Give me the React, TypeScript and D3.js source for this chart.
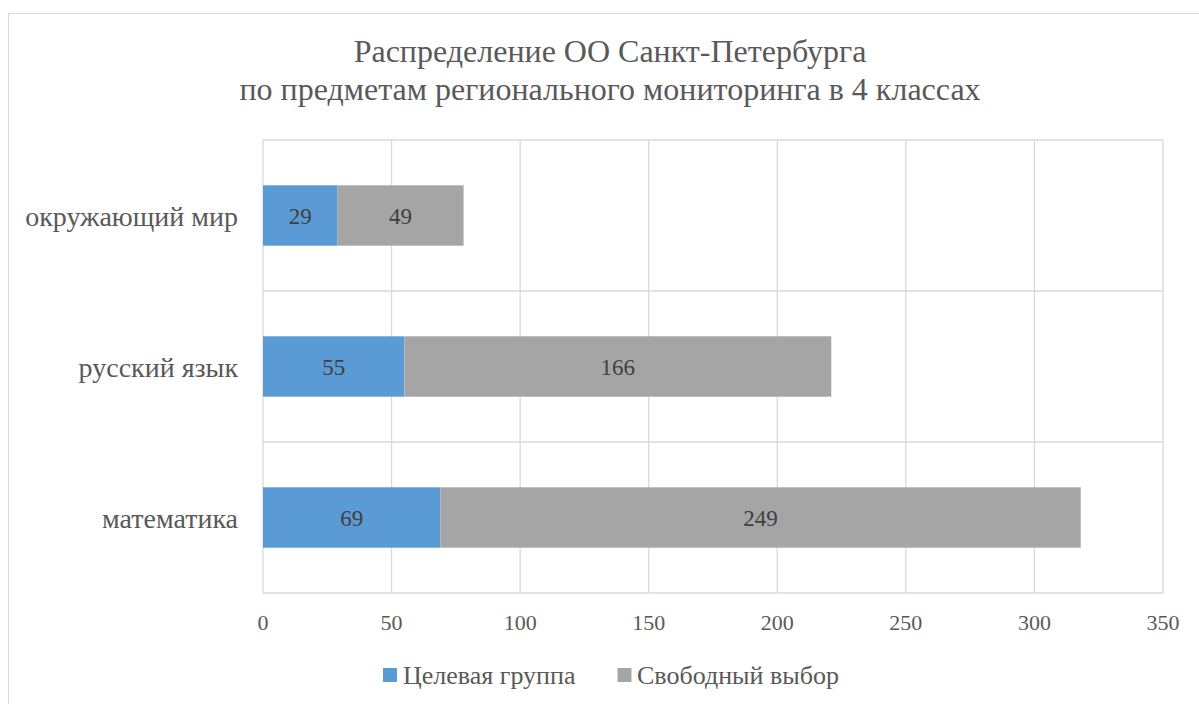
import React from "react";
import * as d3 from "d3";

const categories = ["окружающий мир", "русский язык", "математика"];
const targetGroup = [29, 55, 69];
const freeChoice = [49, 166, 249];
const seriesNames = ["Целевая группа", "Свободный выбор"];
const xTicks = [0, 50, 100, 150, 200, 250, 300, 350];
const titleLines = ["Распределение ОО Санкт-Петербурга", "по предметам регионального мониторинга в 4 классах"];

const W = 1199;
const H = 704;
const colors = ["#5B9BD5", "#A5A5A5"];
const textColor = "#595959";
const grid = "#D9D9D9";

export default function App() {
  const plot = { left: 263, right: 1163, top: 140, bottom: 593 };
  const x = d3.scaleLinear().domain([0, 350]).range([plot.left, plot.right]);
  const y = d3.scaleBand().domain(categories).range([plot.top, plot.bottom]).paddingInner(0.6).paddingOuter(0.3);
  const bandStep = y.step();
  const stacked = categories.map((c, i) => {
    const vals = [targetGroup[i], freeChoice[i]];
    let acc = 0;
    return vals.map((v, s) => {
      const x0 = acc;
      acc += v;
      return { c, s, v, x0, x1: acc };
    });
  });
  const boundaries = d3.range(categories.length + 1).map((i) => plot.top + i * bandStep);
  const centerX = 610;
  const titleScale = 32 / 28;

  return (
    <svg width={W} height={H} style={{ position: "absolute", left: 0, top: 0 }}>
      <rect x={0} y={0} width={W} height={H} fill="#fff" />
      <rect x={8.5} y={13.5} width={1200} height={720} fill="#fff" stroke={grid} strokeWidth={1} />
      {titleLines.map((t, i) => (
        <text
          key={i}
          transform={`translate(${centerX},${62 + i * 38}) scale(${titleScale})`}
          x={0}
          y={0}
          textAnchor="middle"
          fontSize={28}
          fill={textColor}
          style={{ fontFamily: "Liberation Serif" }}
        >
          {t}
        </text>
      ))}
      {xTicks.map((t) => (
        <line key={"g" + t} x1={x(t)} x2={x(t)} y1={plot.top} y2={plot.bottom} stroke={grid} strokeWidth={1.3} />
      ))}
      {boundaries.map((b, i) => (
        <line key={"h" + i} x1={plot.left} x2={plot.right} y1={b} y2={b} stroke={grid} strokeWidth={1.3} />
      ))}
      {stacked.map((segs) =>
        segs.map((d) => (
          <g key={d.c + d.s}>
            <rect
              x={x(d.x0)}
              y={y(d.c)}
              width={x(d.x1) - x(d.x0)}
              height={y.bandwidth()}
              fill={colors[d.s]}
            />
            <text
              x={(x(d.x0) + x(d.x1)) / 2}
              y={(y(d.c) as number) + y.bandwidth() / 2 + 8}
              textAnchor="middle"
              fontSize={23}
              fill="#404040"
              style={{ fontFamily: "Liberation Serif" }}
            >
              {d.v}
            </text>
          </g>
        ))
      )}
      {categories.map((c) => (
        <text
          key={c}
          x={plot.left - 25}
          y={(y(c) as number) + y.bandwidth() / 2 + 10}
          textAnchor="end"
          fontSize={28}
          fill={textColor}
          style={{ fontFamily: "Liberation Serif" }}
        >
          {c}
        </text>
      ))}
      {xTicks.map((t) => (
        <text
          key={"t" + t}
          x={x(t)}
          y={630}
          textAnchor="middle"
          fontSize={22}
          fill={textColor}
          style={{ fontFamily: "Liberation Serif" }}
        >
          {t}
        </text>
      ))}
      <g>
        <rect x={383} y={668} width={14} height={14} fill={colors[0]} />
        <text x={403} y={684} fontSize={26} fill={textColor} style={{ fontFamily: "Liberation Serif" }}>
          {seriesNames[0]}
        </text>
        <rect x={617.5} y={668} width={14} height={14} fill={colors[1]} />
        <text x={637} y={684} fontSize={26} fill={textColor} style={{ fontFamily: "Liberation Serif" }}>
          {seriesNames[1]}
        </text>
      </g>
    </svg>
  );
}
